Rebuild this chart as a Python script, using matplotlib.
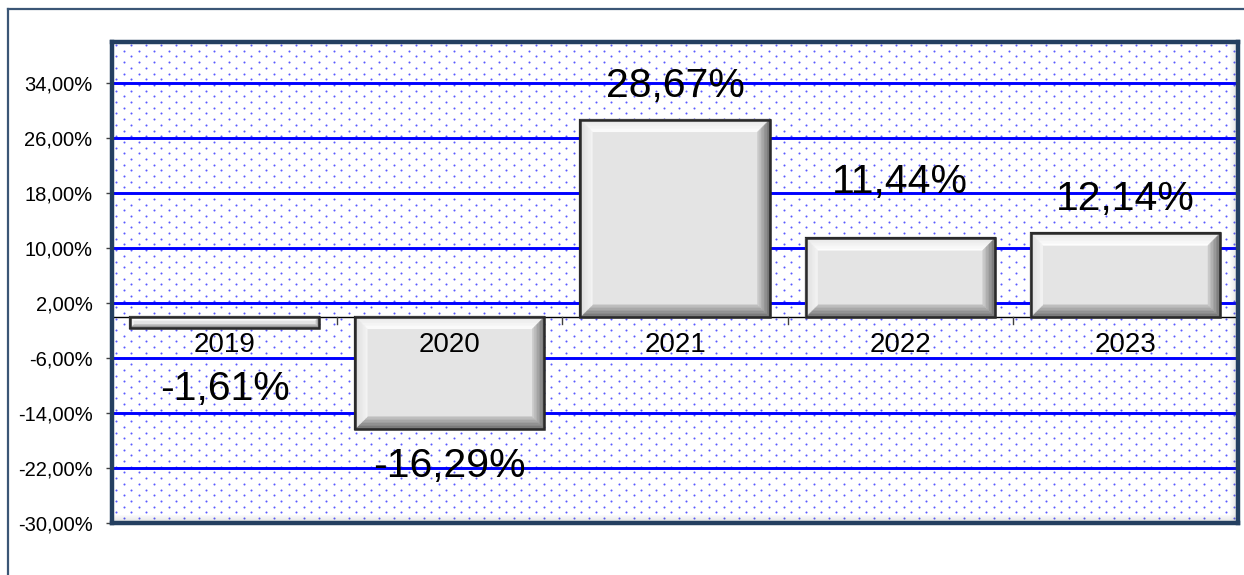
import numpy as np
import matplotlib.pyplot as plt
from matplotlib.patches import Polygon, Rectangle
from matplotlib.lines import Line2D
from matplotlib.colors import to_rgb

years = ["2019", "2020", "2021", "2022", "2023"]
returns = [-1.61, -16.29, 28.67, 11.44, 12.14]
yticks = [-30, -22, -14, -6, 2, 10, 18, 26, 34]
# label offsets (pixels from bar end) as placed in the original
label_off = [61, 37, 34, 56, 34]

plt.rcParams['font.family'] = ['Liberation Sans', 'DejaVu Sans']

W, H = 1244, 575
fig = plt.figure(figsize=(W / 100, H / 100), dpi=100)
ax = fig.add_axes([112 / W, (H - 523) / H, 1126 / W, 481 / H])
ax.set_xlim(-0.5, 4.5)
ax.set_ylim(-30, 40)
ax.set_facecolor('white')

# outer chart frame (left + top visible)
fig.add_artist(Line2D([8 / W, 8 / W], [0, 1 - 9 / H], transform=fig.transFigure,
                      color='#3b5676', lw=1.6))
fig.add_artist(Line2D([8 / W, 1], [1 - 9 / H, 1 - 9 / H], transform=fig.transFigure,
                      color='#3b5676', lw=1.6))

# dotted background
pw, ph = 1126, 481
rows = np.arange(3, ph, 5.7)
px, py = [], []
for k, r in enumerate(rows):
    start = 4 if k % 2 == 0 else 11.5
    xs = np.arange(start, pw, 15)
    px.extend(xs)
    py.extend([r] * len(xs))
ax.scatter(np.array(px) / pw, 1 - np.array(py) / ph, s=2.2, marker='o', lw=0,
           color='#5a5aff', transform=ax.transAxes, zorder=0.5, clip_on=True)

# inner shadow along right and bottom edges
for i in range(7):
    a = 0.16 * (1 - i / 7)
    ax.add_patch(Rectangle((1 - (i + 1) * 1.2 / pw, 0), 1.2 / pw, 1, transform=ax.transAxes,
                           color='#505050', alpha=a, lw=0, zorder=0.6))
    ax.add_patch(Rectangle((0, i * 1.2 / ph), 1, 1.2 / ph, transform=ax.transAxes,
                           color='#505050', alpha=a, lw=0, zorder=0.6))

# gridlines
ax.set_yticks(yticks)
ax.set_yticklabels([f"{v:.2f}%".replace('.', ',') for v in yticks], fontsize=14.5)
ax.yaxis.grid(True, color='#0000ff', lw=2.1, zorder=1)
ax.set_axisbelow(True)
ax.axhline(0, color='black', lw=1, zorder=2)
ax.set_xticks([])
ax.tick_params(axis='y', length=4.5, width=1, color='#404040', pad=9.5)

for s in ax.spines.values():
    s.set_color('#243f60')
    s.set_linewidth(3.2)
    s.set_zorder(6)

# category boundary ticks under the zero line
for k in range(len(years) + 1):
    ax.plot([k - 0.5, k - 0.5], [0, -1.0], color='#404040', lw=1, zorder=2)


def mix(c1, c2, t):
    a, b = np.array(to_rgb(c1)), np.array(to_rgb(c2))
    return tuple(a + (b - a) * t)


bw = 0.84
ax.bar(range(len(years)), returns, width=bw, color='#e4e4e4',
       edgecolor='#2a2a2a', lw=1.6, zorder=3)

bevel_cols = {'top': ('#e6e6e6', '#ffffff'), 'left': ('#dcdcdc', '#f4f4f4'),
              'right': ('#6a6a6a', '#cfcfcf'), 'bot': ('#6a6a6a', '#c4c4c4')}
nstep = 8
for i, v in enumerate(returns):
    x0, x1 = i - bw / 2, i + bw / 2
    y0, y1 = min(0, v), max(0, v)
    by = min(12 / 6.875, 0.3 * (y1 - y0))
    bxx = 12 / 225.2 * (by / (12 / 6.875))
    for j in range(nstep):
        t0, t1 = j / nstep, (j + 1) / nstep
        dx0, dy0, dx1, dy1 = t0 * bxx, t0 * by, t1 * bxx, t1 * by
        sides = {
            'top': [(x0 + dx0, y1 - dy0), (x1 - dx0, y1 - dy0), (x1 - dx1, y1 - dy1), (x0 + dx1, y1 - dy1)],
            'bot': [(x0 + dx0, y0 + dy0), (x1 - dx0, y0 + dy0), (x1 - dx1, y0 + dy1), (x0 + dx1, y0 + dy1)],
            'left': [(x0 + dx0, y0 + dy0), (x0 + dx0, y1 - dy0), (x0 + dx1, y1 - dy1), (x0 + dx1, y0 + dy1)],
            'right': [(x1 - dx0, y0 + dy0), (x1 - dx0, y1 - dy0), (x1 - dx1, y1 - dy1), (x1 - dx1, y0 + dy1)],
        }
        for name, pts in sides.items():
            c = mix(bevel_cols[name][0], bevel_cols[name][1], (t0 + t1) / 2)
            ax.add_patch(Polygon(pts, closed=True, facecolor=c, edgecolor=c, lw=0.3, zorder=3.5))
    ax.add_patch(Rectangle((x0, y0), bw, y1 - y0, facecolor='none', edgecolor='#2a2a2a',
                           lw=1.8, zorder=3.6))

    lab = f"{v:.2f}%".replace('.', ',')
    off = label_off[i] if v > 0 else -label_off[i]
    ax.annotate(lab, (i, v), xytext=(0, off), textcoords='offset pixels',
                ha='center', va='center', fontsize=29.5, zorder=5)
    ax.annotate(years[i], (i, 0), xytext=(0, -28), textcoords='offset pixels',
                ha='center', va='center', fontsize=20, zorder=5)

fig.savefig('out.png', dpi=100)
